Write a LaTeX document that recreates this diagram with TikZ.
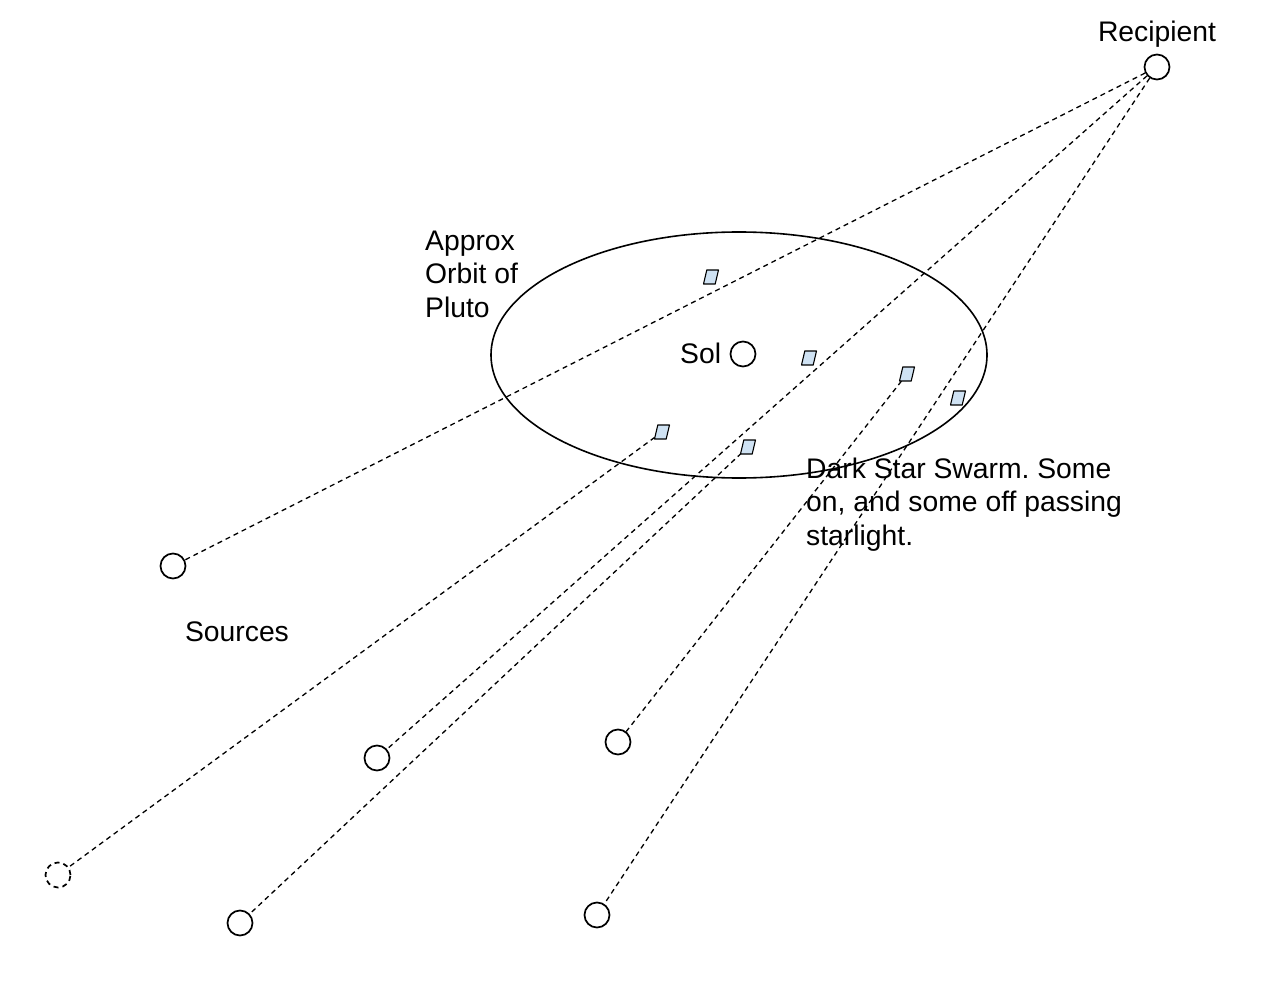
\documentclass[tikz,border=0pt]{standalone}
\usepackage{fontspec}
\setmainfont{Liberation Sans}
\frenchspacing
\definecolor{swarmfill}{RGB}{207,226,243}
\tikzset{
  star/.style={circle, draw, line width=1.7pt, minimum size=25pt, inner sep=0pt},
  ghost/.style={star, dash pattern=on 5pt off 4pt},
  darkstar/.style={draw, line width=1.1pt, fill=swarmfill, line join=round},
  ray/.style={line width=1.3pt, dash pattern=on 5pt off 4pt},
  lbl/.style={font=\fontsize{28.3}{33.5}\selectfont, inner sep=0pt, align=left}
}
\newcommand\dstarshape[1]{\draw[darkstar] (#1) ++(-4.2,-7) -- ++(11.7,0) -- ++(-3.3,14) -- ++(-11.7,0) -- cycle;}
\begin{document}
\begin{tikzpicture}[x=1pt,y=-1pt]
\useasboundingbox (0,0) rectangle (1274,992);
% orbit
\draw[line width=1.6pt] (739,355) ellipse [x radius=248pt, y radius=123pt];
% bodies
\node[star] (rec) at (1157,67) {};
\node[star] (sol) at (743,354) {};
\node[star] (s1) at (173,566) {};
\node[ghost] (s2) at (58,875) {};
\node[star] (s3) at (377,758) {};
\node[star] (s4) at (240,923) {};
\node[star] (s6) at (618,742) {};
\node[star] (s7) at (597,915) {};
% dark star positions
\coordinate (p1) at (711,277);
\coordinate (p2) at (809,358);
\coordinate (p3) at (907,374);
\coordinate (p4) at (958,398);
\coordinate (p5) at (662,432);
\coordinate (p6) at (748,447);
% rays
\draw[ray] (rec) -- (s1);
\draw[ray] (rec) -- (s3);
\draw[ray] (rec) -- (s7);
\draw[ray] (p5) -- (s2);
\draw[ray] (p6) -- (s4);
\draw[ray] (p3) -- (s6);
% dark stars
\dstarshape{p1}
\dstarshape{p2}
\dstarshape{p3}
\dstarshape{p4}
\dstarshape{p5}
\dstarshape{p6}
% labels
\node[lbl, anchor=base] (trec) at (1157,42) {Recipient};
\node[lbl, anchor=base west] (torb) at (425,317) {Approx\\Orbit of\\Pluto};
\node[lbl, anchor=base west] (tsol) at (680,363) {Sol};
\node[lbl, anchor=base west] (tswarm) at (806,545) {Dark Star Swarm. Some\\on, and some off passing\\starlight.};
\node[lbl, anchor=base] (tsrc) at (237,641) {Sources};
\end{tikzpicture}
\end{document}
